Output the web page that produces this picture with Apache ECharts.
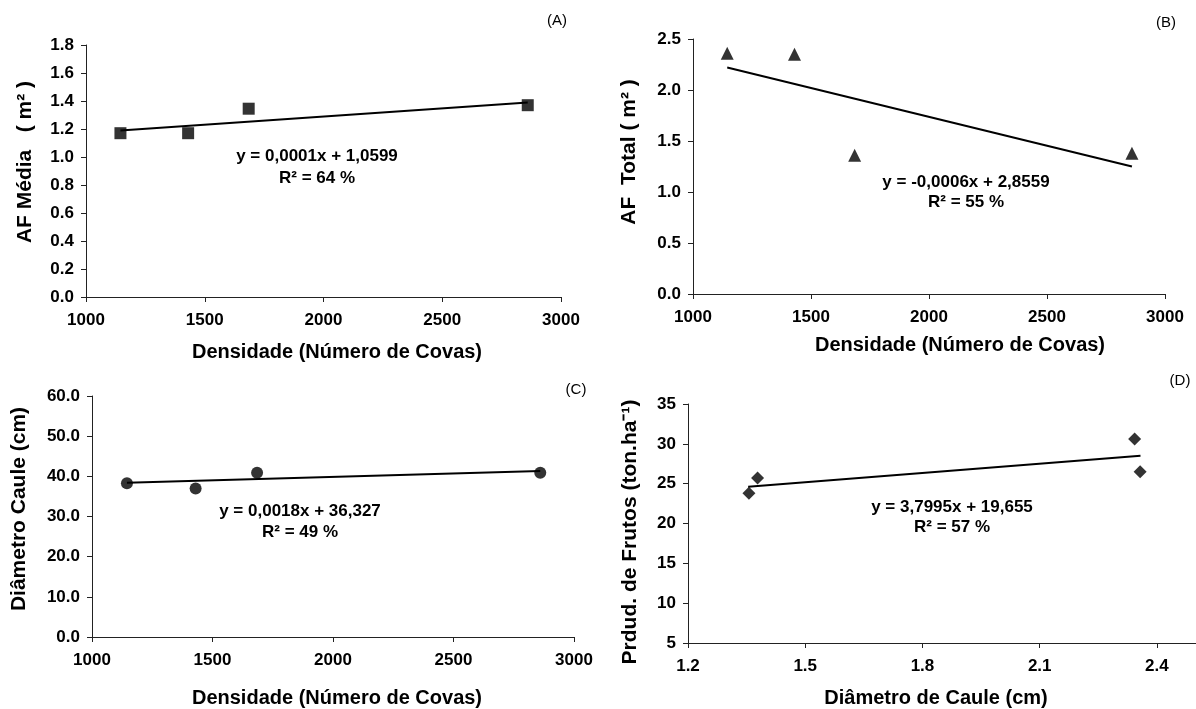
<!DOCTYPE html>
<html>
<head>
<meta charset="utf-8">
<script src="https://cdn.jsdelivr.net/npm/echarts@6/dist/echarts.min.js"></script>
<style>
  body { margin: 0; background: #fff; }
  #chart { width: 1196px; height: 709px; }
</style>
</head>
<body>
<div id="chart"></div>
<script>
// densidade (número de covas) shared by A, B, C
const densidade = [1145, 1430, 1685, 2860];
const afMedia = [1.17, 1.17, 1.345, 1.37];
const afTotal = [2.36, 2.35, 1.36, 1.38];
const diametro = [38.3, 37.0, 40.9, 40.9];
// panel D
const diametroCaule = [1.356, 1.378, 2.343, 2.357];
const produtividade = [23.8, 25.7, 30.6, 26.5];

// trend line ends
const trendX = [1145, 2860];
const trendA = [1.19, 1.39];
const trendB = [2.22, 1.25];
const trendC = [38.4, 41.3];
const trendDX = [1.354, 2.358];
const trendD = [24.6, 28.5];

const eqA = 'y = 0,0001x + 1,0599\nR² = 64 %';
const eqB = 'y = -0,0006x + 2,8559\nR² = 55 %';
const eqC = 'y = 0,0018x + 36,327\nR² = 49 %';
const eqD = 'y = 3,7995x + 19,655\nR² = 57 %';

const FONT = '"Liberation Sans", Arial, sans-serif';
const chart = echarts.init(document.getElementById('chart'));

function zip(xs, ys) {
    return xs.map((x, i) => [x, ys[i]]);
}

function xAxis(idx, min, max, interval, digits) {
    return {
        type: 'value', gridIndex: idx, min: min, max: max, interval: interval,
        splitLine: { show: false },
        axisLine: { lineStyle: { color: '#222', width: 1 } },
        axisTick: { length: 5, lineStyle: { color: '#222' } },
        axisLabel: {
            margin: 15, color: '#000', fontWeight: 'bold', fontSize: 17, fontFamily: FONT,
            showMaxLabel: max !== 2.5,
            formatter: v => v.toFixed(digits)
        }
    };
}

function yAxis(idx, min, max, interval, digits) {
    return {
        type: 'value', gridIndex: idx, min: min, max: max, interval: interval,
        splitLine: { show: false },
        axisLine: { show: true, lineStyle: { color: '#222', width: 1 } },
        axisTick: { show: true, length: 5, lineStyle: { color: '#222' } },
        axisLabel: {
            margin: 12, color: '#000', fontWeight: 'bold', fontSize: 17, fontFamily: FONT,
            formatter: v => v.toFixed(digits)
        }
    };
}

function scatter(idx, data, symbol, size) {
    return {
        type: 'scatter', xAxisIndex: idx, yAxisIndex: idx, data: data,
        symbol: symbol, symbolSize: size, itemStyle: { color: '#000' }
    };
}

function trend(idx, data) {
    return {
        type: 'line', xAxisIndex: idx, yAxisIndex: idx, data: data,
        symbol: 'none', lineStyle: { color: '#000', width: 2 }, z: 1
    };
}

function text(x, y, str, size, bold, rotate, lh) {
    return {
        type: 'text', x: x, y: y, rotation: rotate ? Math.PI / 2 : 0,
        style: {
            text: str, fill: '#000',
            font: (bold ? 'bold ' : '') + size + 'px ' + FONT,
            textAlign: 'center', textVerticalAlign: 'middle',
            align: 'center', verticalAlign: 'middle',
            lineHeight: lh || size
        }
    };
}

chart.setOption({
    animation: false,
    grid: [
        { left: 86, top: 45, width: 475, height: 252 },
        { left: 693, top: 39, width: 472, height: 255 },
        { left: 92, top: 396, width: 482, height: 241 },
        { left: 688, top: 404, width: 517, height: 239 }
    ],
    xAxis: [
        xAxis(0, 1000, 3000, 500, 0),
        xAxis(1, 1000, 3000, 500, 0),
        xAxis(2, 1000, 3000, 500, 0),
        xAxis(3, 1.2, 2.5, 0.3, 1)
    ],
    yAxis: [
        yAxis(0, 0, 1.8, 0.2, 1),
        yAxis(1, 0, 2.5, 0.5, 1),
        yAxis(2, 0, 60, 10, 1),
        yAxis(3, 5, 35, 5, 0)
    ],
    series: [
        trend(0, zip(trendX, trendA)),
        scatter(0, zip(densidade, afMedia), 'rect', 12),
        trend(1, zip(trendX, trendB)),
        scatter(1, zip(densidade, afTotal), 'triangle', 13),
        trend(2, zip(trendX, trendC)),
        scatter(2, zip(densidade, diametro), 'circle', 12),
        trend(3, zip(trendDX, trendD)),
        scatter(3, zip(diametroCaule, produtividade), 'diamond', 13)
    ],
    graphic: [
        text(557, 21, '(A)', 15, false),
        text(1166, 23, '(B)', 15, false),
        text(576, 390, '(C)', 15, false),
        text(1180, 381, '(D)', 15, false),
        text(317, 167, eqA, 17, true, false, 22),
        text(966, 192, eqB, 17, true, false, 20),
        text(300, 522, eqC, 17, true, false, 21),
        text(952, 517, eqD, 17, true, false, 20),
        text(337, 352, 'Densidade (Número de Covas)', 20, true),
        text(960, 345, 'Densidade (Número de Covas)', 20, true),
        text(337, 698, 'Densidade (Número de Covas)', 20, true),
        text(936, 698, 'Diâmetro de Caule (cm)', 20, true),
        text(25, 162, 'AF Média   ( m² )', 21, true, true),
        text(629, 152, 'AF  Total ( m² )', 21, true, true),
        text(19, 509, 'Diâmetro Caule (cm)', 21, true, true),
        text(630, 532, 'Prdud. de Frutos (ton.ha⁻¹)', 21, true, true)
    ]
});
</script>
</body>
</html>
